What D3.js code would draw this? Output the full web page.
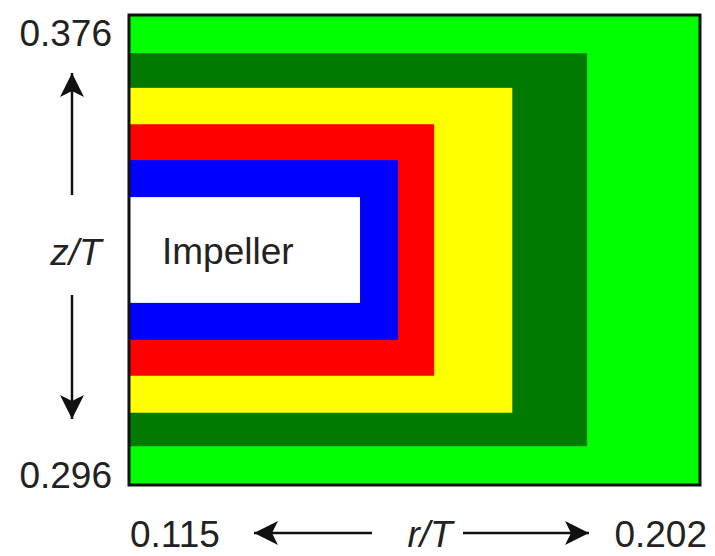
<!DOCTYPE html>
<html>
<head>
<meta charset="utf-8">
<script src="https://cdn.jsdelivr.net/npm/d3@7"></script>
<style>
  html, body { margin: 0; padding: 0; background: #fff; }
  svg { display: block; }
  text { font-family: "Liberation Sans", Arial, sans-serif; fill: #222; }
</style>
</head>
<body>
<svg id="chart" width="715" height="556"></svg>
<script>
// ---- data ----
const layers  = ["outer", "layer1", "layer2", "layer3", "layer4", "Impeller"];
const rMax    = [0.202, 0.1848, 0.1734, 0.1615, 0.1560, 0.1502];
const zTop    = [0.376, 0.3695, 0.3636, 0.3574, 0.3513, 0.3450];
const zBottom = [0.296, 0.3026, 0.3083, 0.3146, 0.3207, 0.3270];
const colors  = ["#00ff00", "#007a00", "#ffff00", "#ff0000", "#0000ff", "#ffffff"];
const rTicks  = ["0.115", "0.202"];
const zTicks  = ["0.376", "0.296"];
const rMin = 0.115;

const svg = d3.select("#chart");
const x = d3.scaleLinear().domain([0.115, 0.202]).range([129, 700]);
const y = d3.scaleLinear().domain([0.296, 0.376]).range([485, 15]);

const data = layers.map((name, i) => ({ name, r: rMax[i], top: zTop[i], bot: zBottom[i], color: colors[i] }));

svg.append("g").selectAll("rect").data(data).join("rect")
  .attr("x", x(rMin))
  .attr("y", d => y(d.top))
  .attr("width", d => x(d.r) - x(rMin))
  .attr("height", d => y(d.bot) - y(d.top))
  .attr("fill", d => d.color);

// outer frame
svg.append("rect")
  .attr("x", x(rMin)).attr("y", y(zTop[0]))
  .attr("width", x(rMax[0]) - x(rMin)).attr("height", y(zBottom[0]) - y(zTop[0]))
  .attr("fill", "none").attr("stroke", "#111").attr("stroke-width", 3);

// Impeller label
const imp = data[data.length - 1];
svg.append("text")
  .attr("x", x(rMin) + 33)
  .attr("y", (y(imp.top) + y(imp.bot)) / 2 + 14)
  .attr("font-size", 37)
  .text(imp.name);

// tick labels
svg.append("text").attr("x", 112).attr("y", y(0.376) + 31)
  .attr("text-anchor", "end").attr("font-size", 37).text(zTicks[0]);
svg.append("text").attr("x", 112).attr("y", y(0.296) + 3)
  .attr("text-anchor", "end").attr("font-size", 37).text(zTicks[1]);
svg.append("text").attr("x", x(0.115) + 1).attr("y", 547)
  .attr("text-anchor", "start").attr("font-size", 37).text(rTicks[0]);
svg.append("text").attr("x", x(0.202) + 7).attr("y", 547)
  .attr("text-anchor", "end").attr("font-size", 37).text(rTicks[1]);

// axis titles
svg.append("text").attr("x", 76).attr("y", 265)
  .attr("text-anchor", "middle").attr("font-size", 37).attr("font-style", "italic").text("z/T");
svg.append("text").attr("x", 430).attr("y", 547)
  .attr("text-anchor", "middle").attr("font-size", 37).attr("font-style", "italic").text("r/T");

// arrows
const defs = svg.append("defs");
defs.append("marker")
  .attr("id", "ah").attr("viewBox", "0 0 24 24")
  .attr("refX", 24).attr("refY", 12)
  .attr("markerWidth", 24).attr("markerHeight", 24)
  .attr("markerUnits", "userSpaceOnUse")
  .attr("orient", "auto")
  .append("path").attr("d", "M0,0 L24,12 L0,24 L6,12 Z").attr("fill", "#111");

const arrows = [
  [72, 195, 72, 73],
  [72, 295, 72, 419],
  [372, 533, 254, 533],
  [463, 533, 589, 533]
];
svg.append("g").selectAll("line").data(arrows).join("line")
  .attr("x1", d => d[0]).attr("y1", d => d[1])
  .attr("x2", d => d[2]).attr("y2", d => d[3])
  .attr("stroke", "#111").attr("stroke-width", 2.5)
  .attr("marker-end", "url(#ah)");
</script>
</body>
</html>
